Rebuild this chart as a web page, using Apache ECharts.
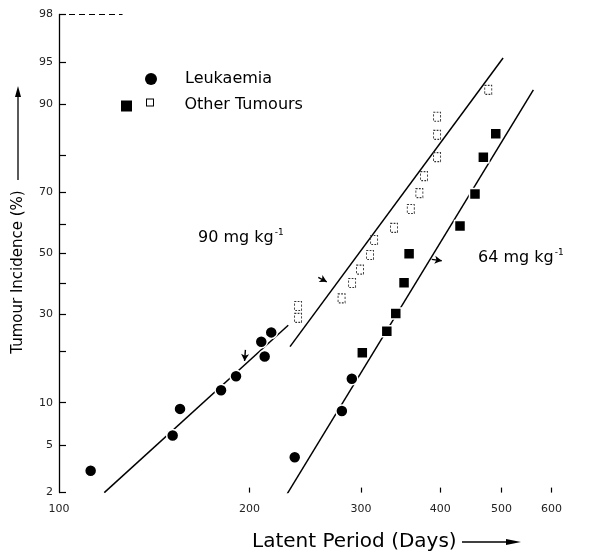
<!DOCTYPE html>
<html><head><meta charset="utf-8">
<script src="https://cdn.jsdelivr.net/npm/echarts@6/dist/echarts.min.js"></script>
<style>html,body{margin:0;padding:0;background:#fff}#c{width:594px;height:554px}</style>
</head><body><div id="c"></div>
<script>
// ---- axis ticks / labels ----
const xTickDays = [200, 300, 400, 500, 600];
const xLabelDays = [100, 200, 300, 400, 500, 600];
const yTickPct = [2, 5, 10, 20, 30, 40, 50, 60, 70, 80, 90, 95, 98];
const yLabelPct = [2, 5, 10, 30, 50, 70, 90, 95, 98];

// ---- data (latent period in days, cumulative incidence in %) ----
const leuk90Days = [112.2, 151.2, 155.3, 180.3, 190.4, 208.7, 211.3, 216.4];
const leuk90Pct  = [3.1, 5.9, 9.1, 12.0, 14.6, 22.4, 18.8, 24.9];
const leuk64Days = [235.7, 279.8, 290.1];
const leuk64Pct  = [4.0, 8.8, 14.1];
const other64Days = [301.4, 329.5, 340.4, 350.8, 357.3, 430.0, 454.1, 468.1, 489.7];
const other64Pct  = [19.7, 25.2, 30.3, 40.1, 49.9, 59.3, 69.5, 79.6, 84.8];
const other90Days = [238.6, 238.6, 279.5, 290.4, 298.9, 310.0, 314.6, 338.3, 359.5, 370.9, 377.3, 395.6, 395.6, 395.6, 476.5];
const other90Pct  = [32.6, 29.0, 35.0, 40.0, 44.5, 49.5, 54.6, 58.7, 64.9, 69.8, 74.7, 79.6, 84.6, 88.0, 92.0];

// fitted lines (end points)
const fitLeuk90Days = [117.9, 230.2];
const fitLeuk90Pct  = [2.0, 26.9];
const fitOther90Days = [231.7, 502.9];
const fitOther90Pct  = [21.2, 95.35];
const fit64Days = [229.2, 561.5];
const fit64Pct  = [1.94, 92.0];

// small pointer arrows drawn on the plot (start, end)
const arrowLeukDays = [197.0, 196.4];
const arrowLeukPct  = [20.4, 17.8];
const arrow90Days = [256.8, 264.8];
const arrow90Pct  = [41.9, 40.4];
const arrow64Days = [388.0, 402.3];
const arrow64Pct  = [48.0, 47.5];

const topRuleDays = [100, 126];
const topRulePct = [98, 98];

// ---- probit transform ----
function probit(pct) {
  const p = pct / 100;
  const a = [-3.969683028665376e+01, 2.209460984245205e+02, -2.759285104469687e+02, 1.383577518672690e+02, -3.066479806614716e+01, 2.506628277459239e+00];
  const b = [-5.447609879822406e+01, 1.615858368580409e+02, -1.556989798598866e+02, 6.680131188771972e+01, -1.328068155288572e+01];
  const c = [-7.784894002430293e-03, -3.223964580411365e-01, -2.400758277161838e+00, -2.549732539343734e+00, 4.374664141464968e+00, 2.938163982698783e+00];
  const d = [7.784695709041462e-03, 3.224671290700398e-01, 2.445134137142996e+00, 3.754408661907416e+00];
  const plow = 0.02425;
  let q, r;
  if (p < plow) {
    q = Math.sqrt(-2 * Math.log(p));
    return (((((c[0]*q+c[1])*q+c[2])*q+c[3])*q+c[4])*q+c[5]) / ((((d[0]*q+d[1])*q+d[2])*q+d[3])*q+1);
  } else if (p <= 1 - plow) {
    q = p - 0.5; r = q * q;
    return (((((a[0]*r+a[1])*r+a[2])*r+a[3])*r+a[4])*r+a[5])*q / (((((b[0]*r+b[1])*r+b[2])*r+b[3])*r+b[4])*r+1);
  } else {
    q = Math.sqrt(-2 * Math.log(1 - p));
    return -(((((c[0]*q+c[1])*q+c[2])*q+c[3])*q+c[4])*q+c[5]) / ((((d[0]*q+d[1])*q+d[2])*q+d[3])*q+1);
  }
}
const lg = Math.log10;
const pts = (days, pct) => days.map((v, i) => [lg(v), probit(pct[i])]);
const seg = (days, pct) => [{ coord: [lg(days[0]), probit(pct[0])] }, { coord: [lg(days[1]), probit(pct[1])] }];

const yMin = probit(2), yMax = probit(98);
const font = 'DejaVu Sans, sans-serif';

const chart = echarts.init(document.getElementById('c'), null, { renderer: 'canvas' });

const lineSeries = (name, days, pct) => ({
  type: 'line', name, data: pts(days, pct), symbol: 'none', silent: true,
  lineStyle: { color: '#000', width: 1.5 }, z: 2
});

chart.setOption({
  animation: false,
  backgroundColor: '#fff',
  grid: { left: 59, right: 42.4, top: 14.4, bottom: 61.4 },
  xAxis: {
    type: 'value', min: lg(100), max: lg(600),
    axisLine: { show: false, onZero: false },
    splitLine: { show: false },
    axisTick: { show: true, inside: true, length: 5, customValues: xTickDays.map(lg), lineStyle: { color: '#000', width: 1.2 } },
    axisLabel: {
      customValues: xLabelDays.map(lg), margin: 11,
      formatter: v => String(Math.round(Math.pow(10, v))),
      color: '#222', fontSize: 11, fontFamily: font
    }
  },
  yAxis: {
    type: 'value', min: yMin, max: yMax,
    axisLine: { show: true, onZero: false, lineStyle: { color: '#000', width: 1.3 } },
    splitLine: { show: false },
    axisTick: { show: true, inside: true, length: 7, customValues: yTickPct.map(probit), lineStyle: { color: '#000', width: 1.2 } },
    axisLabel: {
      customValues: yLabelPct.map(probit), margin: 6,
      formatter: v => {
        let best = yLabelPct[0], bd = 1e9;
        yLabelPct.forEach(p => { const dd = Math.abs(probit(p) - v); if (dd < bd) { bd = dd; best = p; } });
        return String(best);
      },
      color: '#222', fontSize: 11, fontFamily: font
    }
  },
  legend: [
    {
      data: [{ name: 'Leukaemia', icon: 'circle', itemStyle: { color: '#000', borderWidth: 0, opacity: 1 } }],
      left: 140, top: 66, itemWidth: 12, itemHeight: 12, selectedMode: false,
      textStyle: { fontSize: 16, fontFamily: font, color: '#000', padding: [0, 0, 0, 23] }
    },
    {
      data: [{ name: 'Other Tumours', icon: 'path://M0,2h11v11h-11z M25,0h8v8h-8z M26,1v6h6v-6z', itemStyle: { color: '#000', borderWidth: 0, opacity: 1 } }],
      left: 116, top: 92, itemWidth: 34, itemHeight: 13, selectedMode: false,
      textStyle: { fontSize: 16, fontFamily: font, color: '#000', padding: [0, 0, 0, 25] }
    }
  ],
  series: [
    Object.assign(lineSeries('fit-leuk-90', fitLeuk90Days, fitLeuk90Pct), {
      markLine: {
        silent: true, symbol: 'none', label: { show: false },
        lineStyle: { color: '#000', width: 1.2, type: [6, 4] },
        data: [seg(topRuleDays, topRulePct)]
      }
    }),
    Object.assign(lineSeries('fit-other-90', fitOther90Days, fitOther90Pct), {
      markLine: {
        silent: true, symbol: ['none', 'arrow'], symbolSize: [6, 7], label: { show: false },
        lineStyle: { color: '#000', width: 1.4, type: 'solid' },
        data: [seg(arrowLeukDays, arrowLeukPct), seg(arrow90Days, arrow90Pct), seg(arrow64Days, arrow64Pct)]
      }
    }),
    lineSeries('fit-64', fit64Days, fit64Pct),
    {
      type: 'scatter', name: 'Leukaemia', data: pts(leuk90Days, leuk90Pct), symbol: 'circle', symbolSize: 12,
      itemStyle: { color: '#000', borderColor: '#fff', borderWidth: 1.5, opacity: 1 }, z: 3
    },
    {
      type: 'scatter', name: 'Leukaemia', data: pts(leuk64Days, leuk64Pct), symbol: 'circle', symbolSize: 12,
      itemStyle: { color: '#000', borderColor: '#fff', borderWidth: 1.5, opacity: 1 }, z: 3
    },
    {
      type: 'scatter', name: 'Other Tumours', data: pts(other64Days, other64Pct), symbol: 'rect', symbolSize: 11,
      itemStyle: { color: '#000', borderColor: '#fff', borderWidth: 1.5, opacity: 1 }, z: 3
    },
    {
      type: 'scatter', name: 'Other Tumours 90', data: pts(other90Days, other90Pct), symbol: 'rect', symbolSize: [7, 9],
      itemStyle: { color: 'rgba(255,255,255,0)', borderColor: '#333', borderWidth: 1, borderType: [2, 1.5], opacity: 1 }, z: 3
    }
  ],
  graphic: [
    {
      type: 'text', left: 198, top: 228,
      style: {
        text: '{m|90 mg kg}{s|-1}', fill: '#000',
        rich: { m: { fontSize: 16, fontFamily: font }, s: { fontSize: 9, fontFamily: font, verticalAlign: 'top', padding: [0, 0, 10, 1] } }
      }
    },
    {
      type: 'text', left: 478, top: 248,
      style: {
        text: '{m|64 mg kg}{s|-1}', fill: '#000',
        rich: { m: { fontSize: 16, fontFamily: font }, s: { fontSize: 9, fontFamily: font, verticalAlign: 'top', padding: [0, 0, 10, 1] } }
      }
    },
    {
      type: 'text', x: 18, y: 272, rotation: Math.PI / 2,
      style: { text: 'Tumour Incidence (%)', fontSize: 15, fontFamily: font, fill: '#000', align: 'center', verticalAlign: 'middle' }
    },
    { type: 'line', shape: { x1: 18, y1: 180, x2: 18, y2: 94 }, style: { stroke: '#000', lineWidth: 1.3 } },
    { type: 'polygon', shape: { points: [[18, 86], [15, 97], [21, 97]] }, style: { fill: '#000' } },
    {
      type: 'text', x: 252, y: 542,
      style: { text: 'Latent Period (Days)', fontSize: 20, fontFamily: font, fill: '#000', align: 'left', verticalAlign: 'middle' }
    },
    { type: 'line', shape: { x1: 462, y1: 542, x2: 510, y2: 542 }, style: { stroke: '#000', lineWidth: 1.3 } },
    { type: 'polygon', shape: { points: [[521, 542], [506, 539], [506, 545]] }, style: { fill: '#000' } }
  ]
});
</script>
</body></html>
